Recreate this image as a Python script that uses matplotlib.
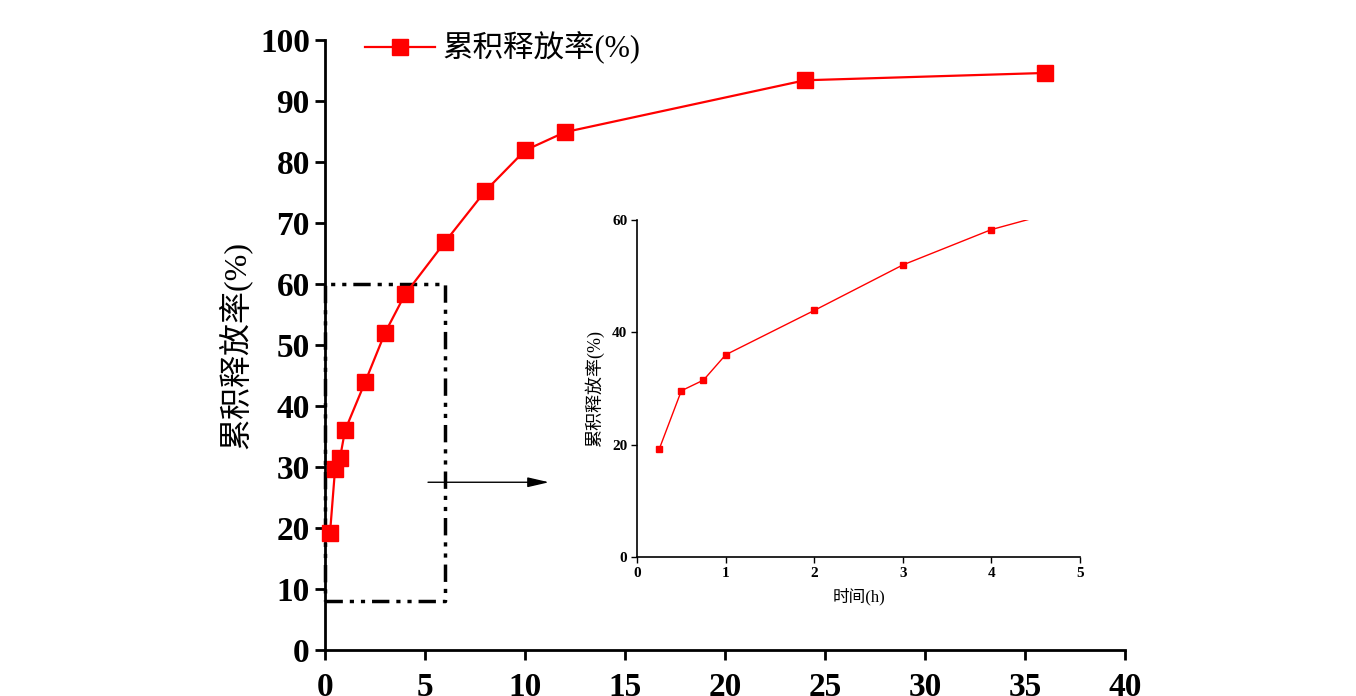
import matplotlib
matplotlib.use("Agg")
import matplotlib.pyplot as plt

plt.rcParams['font.family'] = ['Liberation Serif', 'Noto Sans CJK SC']
plt.rcParams['axes.unicode_minus'] = False

# release data
t_hours = [0.25, 0.5, 0.75, 1, 2, 3, 4, 6, 8, 10, 12, 24, 36]
release = [19.2, 29.6, 31.5, 36.0, 43.9, 52.0, 58.3, 66.9, 75.2, 81.9, 84.9, 93.4, 94.6]
series_name = "累积释放率(%)"
inset_xlabel = "时间(h)"

main_xticks = [0, 5, 10, 15, 20, 25, 30, 35, 40]
main_yticks = [0, 10, 20, 30, 40, 50, 60, 70, 80, 90, 100]
inset_xticks = [0, 1, 2, 3, 4, 5]
inset_yticks = [0, 20, 40, 60]

# zoom box and arrow (data coords)
zoom_x = (0, 6)
zoom_y = (8, 60)
arrow_from = (5.15, 27.5)
arrow_to = (11.2, 27.5)

red = '#ff0000'

fig = plt.figure(figsize=(13.56, 6.96), dpi=100)
ax = fig.add_axes([0.2397, 0.0661, 0.5899, 0.8764])

ax.plot(t_hours, release, color=red, lw=1.6, marker='s', markersize=11,
        markerfacecolor=red, markeredgecolor=red, label=series_name, clip_on=False, zorder=3)
ax.set_xlim(0, 40)
ax.set_ylim(0, 100)
ax.set_xticks(main_xticks)
ax.set_yticks(main_yticks)
for s in ['top', 'right']:
    ax.spines[s].set_visible(False)
for s in ['left', 'bottom']:
    ax.spines[s].set_linewidth(2)
ax.tick_params(direction='out', length=7, width=2, labelsize=24)
ax.tick_params(axis='x', pad=9)
ax.tick_params(axis='y', pad=4)
for lbl in ax.get_xticklabels() + ax.get_yticklabels():
    lbl.set_fontweight('bold')
ax.set_ylabel(series_name, fontsize=23, labelpad=6)

leg = ax.legend(loc='center left', bbox_to_anchor=(0.05, 0.987), frameon=False,
                fontsize=22, handlelength=2.3, borderpad=0, borderaxespad=0,
                handletextpad=0.25, markerscale=1.1)

# zoom rectangle
bx = [zoom_x[0], zoom_x[1], zoom_x[1], zoom_x[0], zoom_x[0]]
by = [zoom_y[0], zoom_y[0], zoom_y[1], zoom_y[1], zoom_y[0]]
ax.plot(bx, by, color='black', lw=2.5, linestyle=(0, (5, 2, 1.2, 2, 1.2, 2)),
        clip_on=False, zorder=2)

ax.annotate('', xy=arrow_to, xytext=arrow_from,
            arrowprops=dict(arrowstyle='-|>,head_length=1.3,head_width=0.3',
                            color='black', lw=1, shrinkA=0, shrinkB=0))

# inset
axi = fig.add_axes([0.4698, 0.1997, 0.3267, 0.4842])
axi.plot(t_hours, release, color=red, lw=1, marker='s', markersize=5,
         markerfacecolor=red, markeredgecolor=red)
axi.set_xlim(0, 5)
axi.set_ylim(0, 60)
axi.set_xticks(inset_xticks)
axi.set_yticks(inset_yticks)
for s in ['top', 'right']:
    axi.spines[s].set_visible(False)
for s in ['left', 'bottom']:
    axi.spines[s].set_linewidth(1.2)
axi.tick_params(direction='out', length=4, width=1, labelsize=11, pad=3)
for lbl in axi.get_xticklabels() + axi.get_yticklabels():
    lbl.set_fontweight('bold')
axi.set_xlabel(inset_xlabel, fontsize=12, labelpad=6)
axi.set_ylabel(series_name, fontsize=13, labelpad=6)

fig.savefig('out.png', dpi=100)
